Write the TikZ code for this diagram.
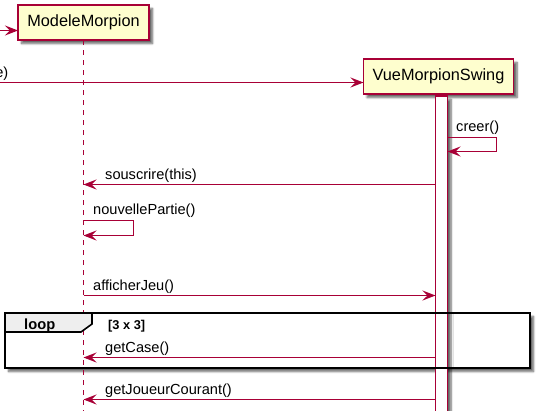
\documentclass[tikz,border=0pt]{standalone}
\usepackage{fontspec}
\setmainfont{Liberation Sans}
\usetikzlibrary{arrows.meta,shadows.blur}
\definecolor{umlred}{HTML}{A80036}
\definecolor{umlfill}{HTML}{FEFECE}
\definecolor{tabfill}{HTML}{EEEEEE}
\tikzset{
  umlshadow/.style={blur shadow={shadow xshift=3.5pt, shadow yshift=-3.5pt, shadow blur steps=6, shadow blur radius=2pt, shadow opacity=60}},
  participant/.style={draw=umlred, fill=umlfill, line width=1.8pt, inner sep=0pt, outer sep=0pt,
    font=\fontsize{16.3}{18}\selectfont, text height=0.72em, text depth=0pt, umlshadow},
  lifeline/.style={draw=umlred, line width=1.2pt, dash pattern=on 5pt off 5pt},
  actbar/.style={draw=umlred, fill=white, line width=1.2pt, inner sep=0pt, outer sep=0pt, umlshadow},
  msg/.style={draw=umlred, line width=1.25pt, -{Stealth[length=13pt,width=10pt,inset=5pt]}},
  msgtext/.style={font=\fontsize{14.6}{16}\selectfont, inner sep=0pt, anchor=base west},
  framebox/.style={draw=black, line width=2.2pt},
  looptab/.style={draw=black, fill=tabfill, line width=1.6pt, line join=miter},
}
\begin{document}
\begin{tikzpicture}[x=1pt,y=-1pt]
\useasboundingbox (0,0) rectangle (549,410);
\clip (0,0) rectangle (549,410);

% participants
\node[participant, minimum width=131pt, minimum height=35pt] (mm) at (83.5,22.5) {ModeleMorpion};
\node[participant, minimum width=150pt, minimum height=35pt] (vs) at (438.5,76.5) {VueMorpionSwing};

% loop frame background (with shadow)
\fill[white, umlshadow] (5,313) rectangle (530,368);

% lifelines
\coordinate (bottom) at (0,412);
\draw[lifeline] (mm.south) -- (mm.south |- bottom);
\draw[lifeline] (vs.south) -- (vs.south |- bottom);

% activation bar
\node[actbar, anchor=north west, minimum width=12pt, minimum height=320pt] (bar) at (435.5,96) {};

% loop frame
\draw[framebox] (5,313) rectangle (530,368);
\draw[looptab] (5,313) -- (92,313) -- (92,324) -- (81,332) -- (5,332) -- cycle;
\node[font=\bfseries\fontsize{14.7}{16}\selectfont, inner sep=0pt, anchor=base west] (looplbl) at (24,329) {loop};
\node[font=\bfseries\fontsize{12.8}{14}\selectfont, inner sep=0pt, anchor=base west] (guard) at (108,329.5) {[3 x 3]};

% row coordinates
\coordinate (r0) at (0,30.5);
\coordinate (r1) at (0,82.5);
\coordinate (r2a) at (496.5,137.5);
\coordinate (r2b) at (496.5,151.5);
\coordinate (r3) at (0,184.5);
\coordinate (r4a) at (133.5,220.5);
\coordinate (r4b) at (133.5,235.5);
\coordinate (r5) at (0,295.5);
\coordinate (r6) at (0,357.5);
\coordinate (r7) at (0,399.5);

% messages
\draw[msg] (r0) -- (mm.west |- r0);
\draw[msg] (r1) -- (vs.west |- r1);
\node[msgtext, anchor=base east] (m1) at (8.5,77.5) {e)};

\draw[msg] (bar.east |- r2a) -- (r2a) -- (r2b) -- (bar.east |- r2b);
\node[msgtext] (m2) at (456,131.5) {creer()};

\draw[msg] (bar.west |- r3) -- (mm.south |- r3);
\node[msgtext] (m3) at (105,179) {souscrire(this)};

\draw[msg] (mm.south |- r4a) -- (r4a) -- (r4b) -- (mm.south |- r4b);
\node[msgtext] (m4) at (93,214.5) {nouvellePartie()};

\draw[msg] (mm.south |- r5) -- (bar.west |- r5);
\node[msgtext] (m5) at (93,290.5) {afficherJeu()};

\draw[msg] (bar.west |- r6) -- (mm.south |- r6);
\node[msgtext] (m6) at (105,352) {getCase()};

\draw[msg] (bar.west |- r7) -- (mm.south |- r7);
\node[msgtext] (m7) at (105,394) {getJoueurCourant()};
\end{tikzpicture}
\end{document}
